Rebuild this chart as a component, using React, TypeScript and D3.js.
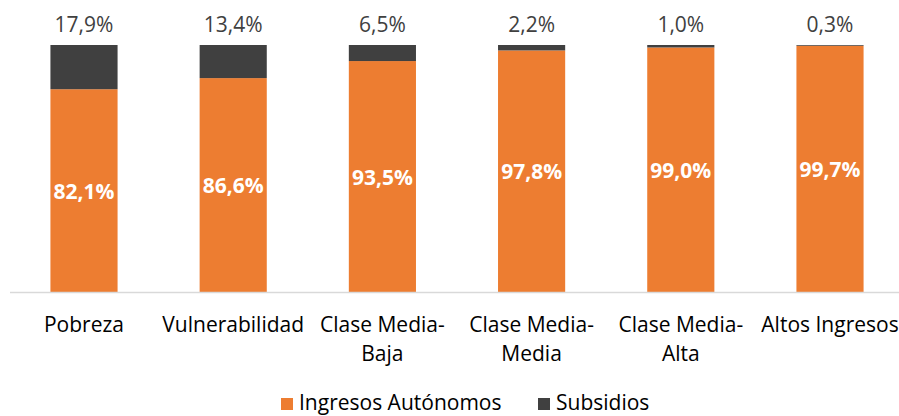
import { useEffect, useRef } from 'react'
import * as d3 from 'd3'

const categories = ['Pobreza', 'Vulnerabilidad', 'Clase Media-Baja', 'Clase Media-Media', 'Clase Media-Alta', 'Altos Ingresos']
const autonomos = [82.1, 86.6, 93.5, 97.8, 99.0, 99.7]
const subsidios = [17.9, 13.4, 6.5, 2.2, 1.0, 0.3]
const seriesNames = ['Ingresos Autónomos', 'Subsidios']
const colors = ['#ED7D31', '#404040']

const fmt = (v: number) => v.toFixed(1).replace('.', ',') + '%'

export default function App() {
  const svgRef = useRef<SVGSVGElement | null>(null)

  useEffect(() => {
    if (!svgRef.current) return
    const width = 899
    const height = 416
    const font = '"Open Sans", sans-serif'

    const svg = d3.select(svgRef.current)
    svg.selectAll('*').remove()
    svg.attr('width', width).attr('height', height)

    const x = d3
      .scaleBand()
      .domain(categories)
      .range([9.4, 904.6])
      .paddingInner(0.55)
      .paddingOuter(0.275)

    const y = d3.scaleLinear().domain([0, 100]).range([292, 45])

    const rows = categories.map((c, i) => ({ c, a: autonomos[i], s: subsidios[i] }))

    // orange segments
    svg
      .selectAll('.bar-a')
      .data(rows)
      .enter()
      .append('rect')
      .attr('x', d => x(d.c)!)
      .attr('width', x.bandwidth())
      .attr('y', d => y(d.a))
      .attr('height', d => y(0) - y(d.a))
      .attr('fill', colors[0])

    // dark segments
    svg
      .selectAll('.bar-s')
      .data(rows)
      .enter()
      .append('rect')
      .attr('x', d => x(d.c)!)
      .attr('width', x.bandwidth())
      .attr('y', d => y(d.a + d.s))
      .attr('height', d => y(d.a) - y(d.a + d.s))
      .attr('fill', colors[1])

    // axis line
    svg
      .append('line')
      .attr('x1', 10)
      .attr('x2', 899)
      .attr('y1', y(0) + 0.5)
      .attr('y2', y(0) + 0.5)
      .attr('stroke', '#d9d9d9')
      .attr('stroke-width', 1.5)

    // labels inside
    svg
      .selectAll('.lbl-a')
      .data(rows)
      .enter()
      .append('text')
      .attr('x', d => x(d.c)! + x.bandwidth() / 2)
      .attr('y', d => (y(0) + y(d.a)) / 2)
      .attr('text-anchor', 'middle')
      .attr('dominant-baseline', 'central')
      .style('font-family', font)
      .style('font-size', '21px')
      .style('font-weight', 'bold')
      .attr('fill', '#fff')
      .text(d => fmt(d.a))

    // labels above
    svg
      .selectAll('.lbl-s')
      .data(rows)
      .enter()
      .append('text')
      .attr('x', d => x(d.c)! + x.bandwidth() / 2)
      .attr('y', 32)
      .attr('text-anchor', 'middle')
      .style('font-family', font)
      .style('font-size', '21px')
      .attr('fill', '#404040')
      .text(d => fmt(d.s))

    // category labels
    const cat = svg
      .selectAll('.cat')
      .data(categories)
      .enter()
      .append('text')
      .attr('text-anchor', 'middle')
      .style('font-family', font)
      .style('font-size', '21px')
      .attr('fill', '#000')
    cat.each(function (c) {
      const parts = c.includes('-') ? [c.slice(0, c.indexOf('-') + 1), c.slice(c.indexOf('-') + 1)] : [c]
      const cx = x(c)! + x.bandwidth() / 2
      parts.forEach((p, k) => {
        d3.select(this)
          .append('tspan')
          .attr('x', cx)
          .attr('y', 332 + k * 29)
          .text(p)
      })
    })

    // legend
    const legendX = [281, 538]
    seriesNames.forEach((name, i) => {
      svg
        .append('rect')
        .attr('x', legendX[i])
        .attr('y', 398)
        .attr('width', 12)
        .attr('height', 12)
        .attr('fill', colors[i])
      svg
        .append('text')
        .attr('x', legendX[i] + 18)
        .attr('y', 410)
        .style('font-family', font)
        .style('font-size', '21px')
        .attr('fill', '#000')
        .text(name)
    })
  }, [])

  return (
    <div style={{ position: 'absolute', left: 0, top: 0 }}>
      <svg ref={svgRef} style={{ display: 'block', background: '#fff' }}></svg>
    </div>
  )
}
